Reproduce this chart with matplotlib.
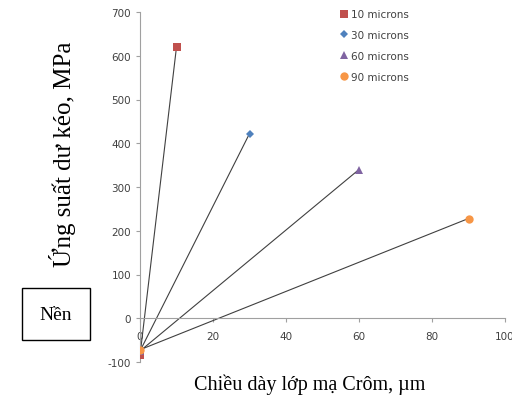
import matplotlib
matplotlib.use("Agg")
import matplotlib.pyplot as plt

plt.rcParams["axes.unicode_minus"] = False

# series: start point at x=0 and end point
series = ["10 microns", "30 microns", "60 microns", "90 microns"]
x_end = [10, 30, 60, 90]
y_end = [620, 422, 340, 228]
y_start = [-85, -75, -75, -72]
markers = ["s", "D", "^", "o"]
colors = ["#C0504D", "#4F81BD", "#8064A2", "#F79646"]
msizes = [6, 4.5, 6, 6]

fig = plt.figure(figsize=(5.12, 4.02), dpi=100)
ax = fig.add_axes([140 / 512, 39 / 402, 365 / 512, 350 / 402])

for name, xe, ye, ys, m, c, ms in zip(series, x_end, y_end, y_start, markers, colors, msizes):
    ax.plot([0, xe], [ys, ye], color="#404040", lw=0.8, zorder=2)
    ax.plot([0, xe], [ys, ye], ls="none", marker=m, color=c, ms=ms,
            markeredgewidth=0, zorder=3, label=name)

ax.set_xlim(0, 100)
ax.set_ylim(-100, 700)
ax.set_xticks([0, 20, 40, 60, 80, 100])
ax.set_yticks(range(-100, 701, 100))

ax.spines["top"].set_visible(False)
ax.spines["right"].set_visible(False)
ax.spines["bottom"].set_position(("data", 0))
for s in ("left", "bottom"):
    ax.spines[s].set_color("#A0A0A0")
    ax.spines[s].set_linewidth(0.8)
ax.tick_params(axis="both", colors="#A0A0A0", labelcolor="#404040",
               labelsize=7.5, length=3, width=0.8)
ax.tick_params(axis="x", pad=6)
ax.patch.set_alpha(0)

leg = ax.legend(loc="upper left", bbox_to_anchor=(0.53, 1.02), frameon=False,
                fontsize=7.5, handletextpad=0.1, labelspacing=1.05, handlelength=1.2,
                borderaxespad=0)
for t in leg.get_texts():
    t.set_color("#404040")

fig.text(62 / 512, 1 - 154 / 402, "Ứng suất dư kéo, MPa", rotation=90, ha="center", va="center",
         family="Liberation Serif", fontsize=18)
fig.text(310 / 512, 1 - 385 / 402, "Chiều dày lớp mạ Crôm, µm", ha="center", va="center",
         family="Liberation Serif", fontsize=14.5)
fig.text(56 / 512, 1 - 315 / 402, "Nền", ha="center", va="center",
         family="Liberation Serif", fontsize=14,
         bbox=dict(boxstyle="square,pad=0.9", fc="white", ec="black", lw=1))

fig.savefig("out.png", dpi=100)
